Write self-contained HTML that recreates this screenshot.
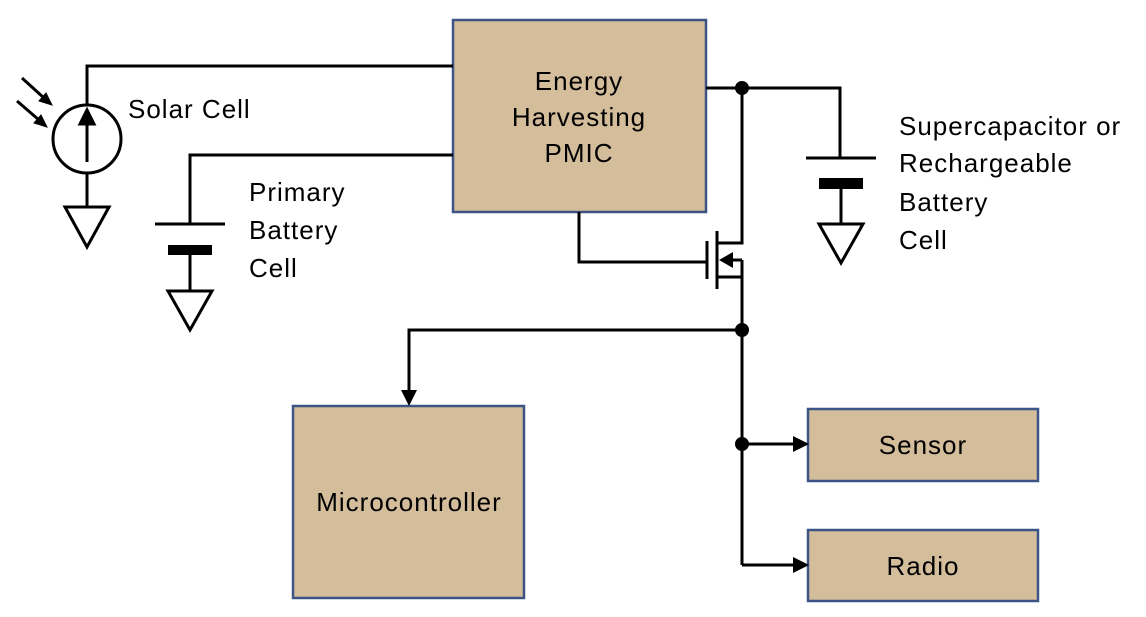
<!DOCTYPE html>
<html><head><style>html,body{margin:0;padding:0;background:#fff}svg{display:block}</style></head>
<body>
<svg width="1146" height="617" viewBox="0 0 1146 617" xmlns="http://www.w3.org/2000/svg" font-family="Liberation Sans, sans-serif" font-size="26" letter-spacing="1" fill="none" stroke="#000" stroke-width="3">
<!-- boxes -->
<g fill="#d4bd9b" stroke="#3c5585" stroke-width="2.5">
<rect x="453" y="20" width="253" height="192"/>
<rect x="293" y="406" width="231" height="192"/>
<rect x="808" y="409" width="230" height="72"/>
<rect x="808" y="530" width="230" height="71"/>
</g>
<g fill="#000" stroke="none" text-anchor="middle">
<text x="579" y="90">Energy</text>
<text x="579" y="126">Harvesting</text>
<text x="579" y="162">PMIC</text>
<text x="409" y="511">Microcontroller</text>
<text x="923" y="454">Sensor</text>
<text x="923" y="575">Radio</text>
</g>
<g fill="#000" stroke="none">
<text x="128" y="118">Solar Cell</text>
<text x="249" y="201">Primary</text>
<text x="249" y="239">Battery</text>
<text x="249" y="277">Cell</text>
<text x="899" y="135">Supercapacitor or</text>
<text x="899" y="172">Rechargeable</text>
<text x="899" y="211">Battery</text>
<text x="899" y="249">Cell</text>
</g>
<!-- solar cell -->
<polyline points="453,66 87,66 87,105"/>
<circle cx="87" cy="139" r="34"/>
<line x1="87" y1="162" x2="87" y2="122"/>
<polygon points="80,124 94,124 87,110" fill="#000"/>
<line x1="87" y1="173" x2="87" y2="207"/>
<polygon points="65,207 109,207 87,247"/>
<line x1="22" y1="78" x2="44" y2="98"/><polygon points="52,105 39,101 46,93" fill="#000" stroke-width="1"/>
<line x1="17" y1="101" x2="39" y2="120"/><polygon points="47,127 34,123 41,115" fill="#000" stroke-width="1"/>
<!-- primary battery -->
<polyline points="453,155 190,155 190,224"/>
<line x1="155" y1="224" x2="225" y2="224"/>
<rect x="168" y="245" width="44" height="10" fill="#000" stroke="none"/>
<line x1="190" y1="255" x2="190" y2="291"/>
<polygon points="168,291 212,291 190,330"/>
<!-- supercap -->
<polyline points="706,88 840,88 840,158"/>
<line x1="806" y1="158" x2="876" y2="158"/>
<rect x="819" y="178" width="44" height="11" fill="#000" stroke="none"/>
<line x1="841" y1="189" x2="841" y2="224"/>
<polygon points="819,224 863,224 841,263"/>
<!-- mosfet -->
<polyline points="742,88 742,243 717,243"/>
<polyline points="579,212 579,262 707,262"/>
<line x1="707" y1="241" x2="707" y2="279"/>
<line x1="717" y1="231" x2="717" y2="289"/>
<polyline points="742,260 730,260"/>
<polygon points="719,260 733,252 733,268" fill="#000" stroke="none"/>
<polyline points="717,277 742,277 742,260"/>
<line x1="742" y1="277" x2="742" y2="565"/>
<circle cx="742" cy="88" r="7" fill="#000" stroke="none"/>
<circle cx="742" cy="330" r="7" fill="#000" stroke="none"/>
<circle cx="742" cy="444" r="7" fill="#000" stroke="none"/>
<polyline points="742,330 409,330 409,392"/>
<polygon points="401,390 417,390 409,406" fill="#000" stroke="none"/>
<line x1="742" y1="444" x2="795" y2="444"/>
<polygon points="793,436 809,444 793,452" fill="#000" stroke="none"/>
<polyline points="742,565 795,565"/>
<polygon points="793,557 809,565 793,573" fill="#000" stroke="none"/>
</svg>
</body></html>
